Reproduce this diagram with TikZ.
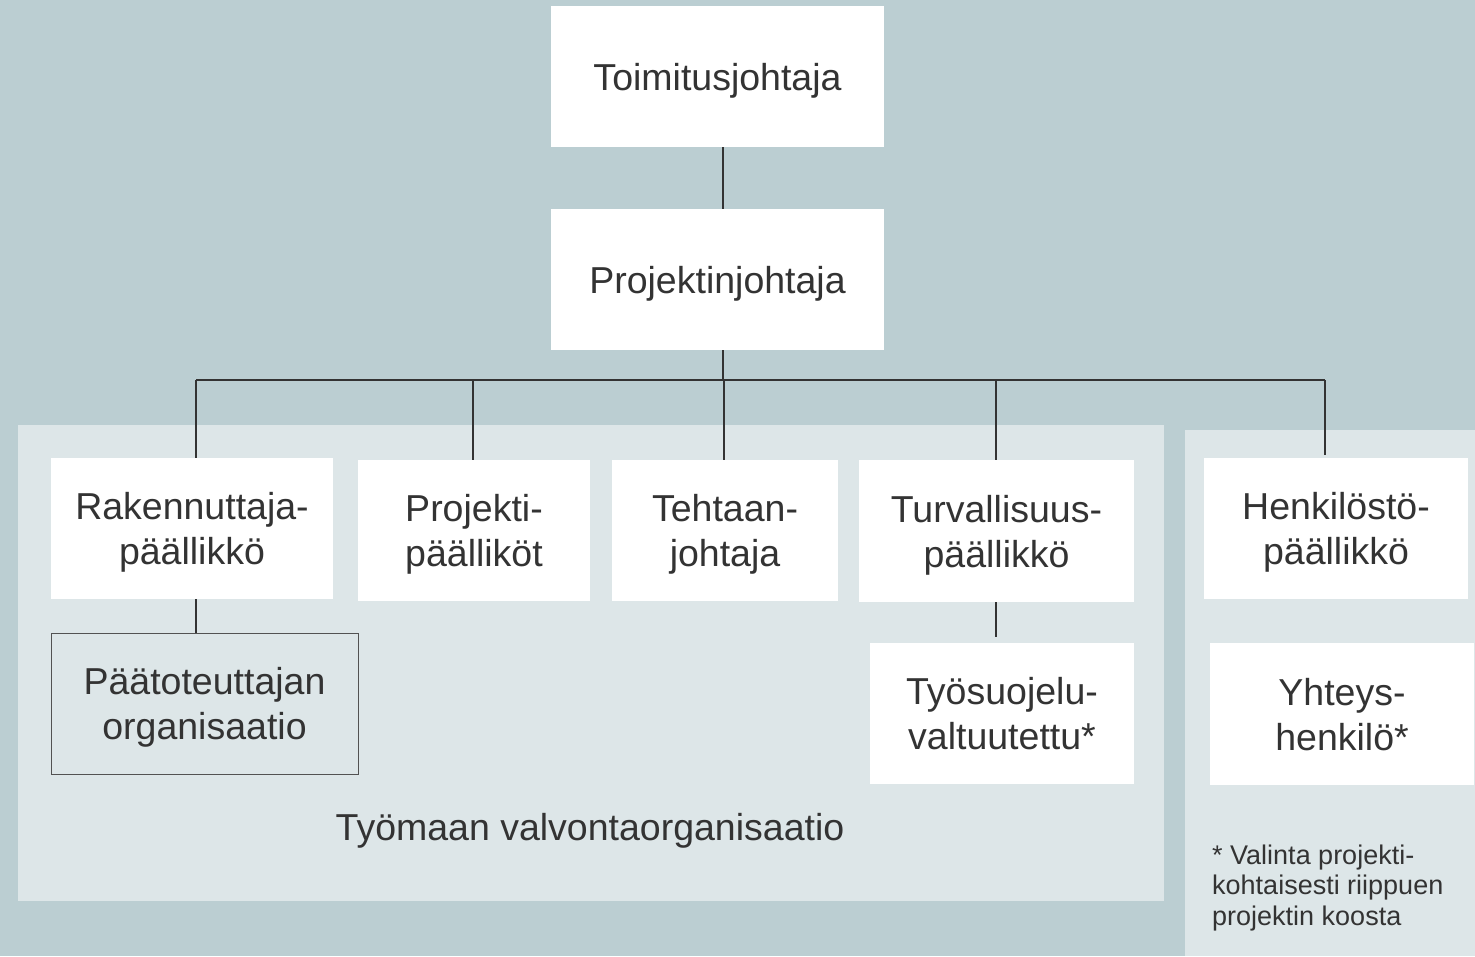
\documentclass[tikz,border=0pt]{standalone}
\usepackage{fontspec}
\setmainfont{Liberation Sans}
\definecolor{bgblue}{RGB}{187,206,210}
\definecolor{panel}{RGB}{221,230,232}
\definecolor{txt}{RGB}{51,51,51}
\newcommand{\boxfont}{\fontsize{37.5}{45}\selectfont}
\newcommand{\notefont}{\fontsize{27}{30.5}\selectfont}
\tikzset{
  orgbox/.style={fill=white, text=txt, inner sep=0pt, align=center, font=\boxfont, text depth=-8pt},
  subbox/.style={fill=panel, draw=txt!85, line width=0.9pt, text=txt, inner sep=0pt, align=center, font=\boxfont, text depth=-6pt},
  link/.style={draw=txt, line width=1.7pt},
}
\begin{document}
\begin{tikzpicture}[x=1pt, y=-1pt]
\useasboundingbox (0,0) rectangle (1475,956);
\fill[bgblue] (0,0) rectangle (1475,956);

% panels
\fill[panel] (18,425) rectangle (1164,901);
\fill[panel] (1185,430) rectangle (1475,956);

% top
\node[orgbox, minimum width=333pt, minimum height=141pt] (toim) at (717.5,76.5) {Toimitusjohtaja};
\node[orgbox, minimum width=333pt, minimum height=141pt] (pjoht) at (717.5,279.5) {Projektinjohtaja};

% second row
\node[orgbox, minimum width=282pt, minimum height=141pt] (rakp) at (192,528.5) {Rakennuttaja-\\päällikkö};
\node[orgbox, minimum width=232pt, minimum height=141pt] (projp) at (474,530.5) {Projekti-\\päälliköt};
\node[orgbox, minimum width=226pt, minimum height=141pt] (tehj) at (725,530.5) {Tehtaan-\\johtaja};
\node[orgbox, minimum width=275pt, minimum height=142pt] (turp) at (996.5,531) {Turvallisuus-\\päällikkö};
\node[orgbox, minimum width=264pt, minimum height=141pt] (henp) at (1336,528.5) {Henkilöstö-\\päällikkö};

% third row
\node[subbox, minimum width=307pt, minimum height=141pt] (paato) at (204.5,703.5) {Päätoteuttajan\\organisaatio};
\node[orgbox, minimum width=264pt, minimum height=141pt] (tsv) at (1002,713.5) {Työsuojelu-\\valtuutettu*};
\node[orgbox, minimum width=264pt, minimum height=142pt] (yht) at (1342,714) {Yhteys-\\henkilö*};

\node[text=txt, font=\boxfont] (valv) at (590,831) {Työmaan valvontaorganisaatio};
\node[text=txt, font=\notefont, align=left, anchor=west, inner sep=0pt] (note) at (1212,888)
  {* Valinta projekti-\\kohtaisesti riippuen\\projektin koosta};

% connectors
\coordinate (bus) at (723,380);
\coordinate (busl) at (196,380);
\coordinate (busr) at (1325,380);
\draw[link] (bus |- toim.south) -- (bus |- pjoht.north);
\draw[link] (bus |- pjoht.south) -- (bus);
\draw[link] (busl) -- (busr);
\draw[link] (busl) -- (busl |- rakp.north);
\draw[link] (473,380) -- (473,460);
\draw[link] (724,380) -- (724,460);
\draw[link] (996,380) -- (996,460);
\draw[link] (busr) -- (1325,455);
\draw[link] (busl |- rakp.south) -- (busl |- paato.north);
\draw[link, shorten >=6pt] (996,602) -- (996,643);
\end{tikzpicture}
\end{document}
